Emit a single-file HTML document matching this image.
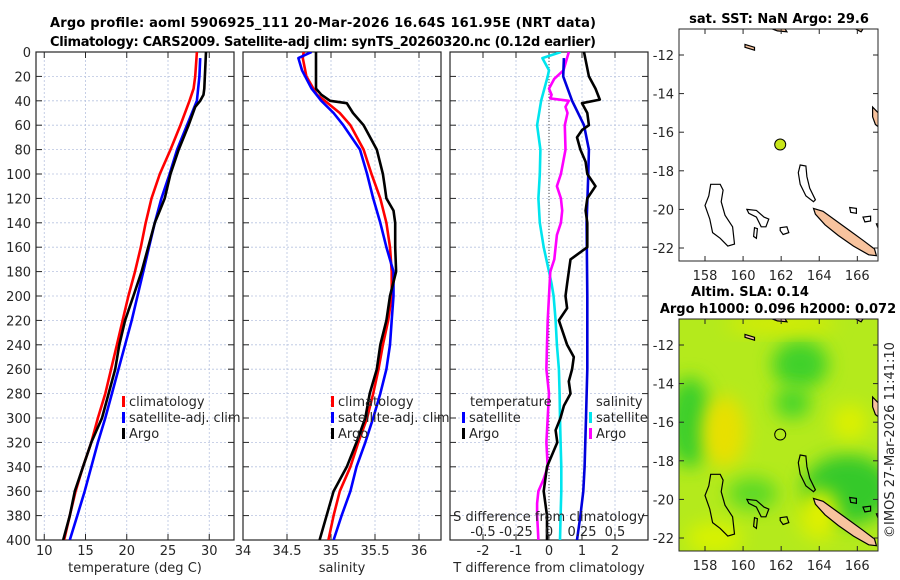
<!DOCTYPE html>
<html><head><meta charset="utf-8"><style>
html,body{margin:0;padding:0;background:#fff;}
svg{display:block;font-family:"DejaVu Sans","Liberation Sans",sans-serif;}
</style></head><body>
<svg id="fig" width="900" height="580" viewBox="0 0 900 580" xmlns="http://www.w3.org/2000/svg">
<defs>
<clipPath id="c1"><rect x="36" y="52" width="198" height="488"/></clipPath>
<clipPath id="c2"><rect x="243" y="52" width="198" height="488"/></clipPath>
<clipPath id="c3"><rect x="450" y="52" width="198" height="488"/></clipPath>
<clipPath id="m1"><rect x="679" y="29" width="199" height="232"/></clipPath>
<clipPath id="m2"><rect x="679" y="319" width="199" height="232"/></clipPath>
<filter id="bl" x="-50%" y="-50%" width="200%" height="200%"><feGaussianBlur stdDeviation="9"/></filter>
</defs>
<g id="layer"></g>
</svg>
<script>
// ---- data ----
const tClimDepth=[0,20,30,40,60,80,100,120,140,160,180,200,220,240,260,280,300,320,340,360,380,400];
const tClimVal=[28.5,28.3,28.1,27.6,26.5,25.3,24.0,23.0,22.3,21.7,21.0,20.2,19.5,18.8,18.1,17.4,16.5,15.7,14.7,13.8,13.1,12.4];
const tSatDepth=[5,20,40,60,80,100,120,140,160,180,200,220,240,260,280,300,320,340,360,380,400];
const tSatVal=[28.9,28.8,28.5,27.3,26.1,25.2,24.2,23.4,22.7,22.0,21.3,20.6,19.8,19.0,18.2,17.4,16.5,15.7,14.9,14.0,13.1];
const tArgoDepth=[0,30,35,40,45,60,80,100,120,130,140,160,180,200,220,240,260,280,300,320,340,360,380,400];
const tArgoVal=[29.6,29.4,29.3,28.9,28.3,27.5,26.3,25.3,24.6,24.0,23.4,22.6,21.8,20.8,19.8,19.1,18.6,17.8,17.0,15.7,14.7,13.7,13.1,12.3];
const sClimDepth=[0,5,20,35,40,50,60,80,100,120,140,160,180,200,220,240,260,280,300,320,340,360,380,400];
const sClimVal=[34.69,34.68,34.72,34.84,34.93,35.10,35.22,35.37,35.46,35.56,35.63,35.67,35.69,35.69,35.65,35.59,35.54,35.48,35.41,35.31,35.22,35.10,35.03,34.97];
const sSatDepth=[0,5,15,30,40,50,60,80,100,120,140,160,180,200,220,240,260,280,300,320,340,360,380,400];
const sSatVal=[34.78,34.63,34.67,34.78,34.89,35.03,35.14,35.33,35.41,35.48,35.56,35.63,35.71,35.71,35.69,35.67,35.63,35.56,35.48,35.39,35.29,35.22,35.12,35.03];
const sArgoDepth=[0,30,35,40,42,50,60,80,100,110,120,130,140,160,180,200,220,240,260,280,300,320,340,360,380,400];
const sArgoVal=[34.83,34.83,34.89,34.99,35.18,35.25,35.37,35.52,35.59,35.61,35.63,35.71,35.73,35.73,35.74,35.67,35.63,35.56,35.52,35.44,35.39,35.29,35.18,35.03,34.95,34.87];
const dTSatDepth=[5,20,40,60,80,100,140,200,260,300,340,360,380,400];
const dTSatVal=[0.45,0.43,0.70,1.06,1.21,1.19,1.14,1.16,1.16,1.12,1.08,1.04,0.95,0.85];
const dTArgoDepth=[0,20,30,39,42,50,60,64,70,80,90,100,110,120,130,140,160,170,180,190,200,210,220,240,250,260,270,280,290,300,310,320,340,360,380,400];
const dTArgoVal=[1.06,1.21,1.41,1.54,1.0,1.16,1.21,1.0,0.85,0.95,1.11,1.16,1.41,1.16,1.11,1.16,1.16,0.65,0.6,0.55,0.5,0.55,0.3,0.55,0.75,0.7,0.6,0.65,0.45,0.35,0.2,0.25,-0.06,-0.16,-0.06,-0.06];
const dSSatDepth=[0,5,15,20,40,60,80,100,120,140,160,180,190,200,220,240,260,280,300,320,340,360,380,400];
const dSSatVal=[0.09,-0.05,0,-0.01,-0.06,-0.09,-0.065,-0.07,-0.08,-0.07,-0.04,0,0.02,0.035,0.05,0.06,0.075,0.08,0.083,0.088,0.093,0.093,0.088,0.083];
const dSArgoDepth=[0,15,22,30,35,38,40,45,50,60,80,100,110,120,130,140,150,160,170,180,200,220,240,260,280,300,320,340,350,360,370,380,390,400];
const dSArgoVal=[0.15,0.11,0.04,0,0.02,0.01,0.15,0.125,0.14,0.12,0.125,0.09,0.06,0.09,0.10,0.09,0.06,0.05,0.04,0.01,0,-0.01,-0.015,-0.02,0,-0.01,-0.02,-0.01,-0.04,-0.08,-0.09,-0.09,-0.085,-0.08];
const depthTicks=[0,20,40,60,80,100,120,140,160,180,200,220,240,260,280,300,320,340,360,380,400];
const tTicks=[10,15,20,25,30];
const sTicks=[34,34.5,35,35.5,36];
const dTTicks=[-2,-1,0,1,2];
const dSTicks=[-0.5,-0.25,0,0.25,0.5];
const dSTickLabels=["-0.5","-0.25","0","0.25","0.5"];
const lonTicks=[158,160,162,164,166];
const latTicks=[-12,-14,-16,-18,-20,-22];

const NS="http://www.w3.org/2000/svg";
const L=document.getElementById('layer');
function mk(tag,attrs,parent,name,inter){const e=document.createElementNS(NS,tag);for(const k in attrs)e.setAttribute(k,attrs[k]);(parent||L).appendChild(e);


return e;}
function txt(x,y,s,attrs,name){const e=mk('text',Object.assign({x:x,y:y,'font-size':13,fill:'#262626'},attrs||{}),L,name);e.textContent=s;return e;}

const Y0=52,Y1=540;
const yD=d=>Y0+(d/400)*(Y1-Y0);
function panel(x0,lo,hi,clip,ticks,labels,title,name,leftLabels){
  const w=198,xs=v=>x0+(v-lo)/(hi-lo)*w;
  const g=mk('g',{},L,name+'-axes');
  depthTicks.forEach(d=>{mk('line',{x1:x0,x2:x0+w,y1:yD(d),y2:yD(d),stroke:'#b8c4e0','stroke-width':0.8,'stroke-dasharray':'2,2'},g,'grid-line');
    mk('line',{x1:x0,x2:x0+6,y1:yD(d),y2:yD(d),stroke:'#262626'},g,'tick');
    mk('line',{x1:x0+w-6,x2:x0+w,y1:yD(d),y2:yD(d),stroke:'#262626'},g,'tick');
    if(leftLabels) txt(x0-5,yD(d)+5,String(d),{'text-anchor':'end'},'depth-tick-label');});
  ticks.forEach((v,i)=>{const x=xs(v);mk('line',{x1:x,x2:x,y1:Y0,y2:Y1,stroke:'#b8c4e0','stroke-width':0.8,'stroke-dasharray':'2,2'},g,'grid-line');
    mk('line',{x1:x,x2:x,y1:Y1-6,y2:Y1,stroke:'#262626'},g,'tick');
    mk('line',{x1:x,x2:x,y1:Y0,y2:Y0+6,stroke:'#262626'},g,'tick');
    txt(x,555,labels[i],{'text-anchor':'middle'},'x-tick-label');});
  mk('rect',{x:x0,y:Y0,width:w,height:Y1-Y0,fill:'none',stroke:'#262626','stroke-width':1.2},g,name+'-frame');
  txt(x0+w/2,572,title,{'text-anchor':'middle'},'x-axis-title');
  return xs;
}
function line(xs,depths,vals,color,clip,name,w){
  const d=depths.map((dd,i)=>(i?'L':'M')+xs(vals[i]).toFixed(1)+','+yD(dd).toFixed(1)).join('');
  mk('path',{d:d,fill:'none',stroke:color,'stroke-width':w||2.6,'stroke-linejoin':'round','clip-path':'url(#'+clip+')'},L,name);
}
function legend(x,y,color,label){mk('rect',{x:x,y:y-10,width:3,height:11,fill:color},L,'legend-swatch');txt(x+7,y,label,{},'legend-entry');}

// titles
txt(50,27,'Argo profile: aoml 5906925_111 20-Mar-2026 16.64S 161.95E (NRT data)',{'font-weight':'bold',fill:'#000',textLength:546},'chart-title-line1');
txt(50,46,'Climatology: CARS2009. Satellite-adj clim: synTS_20260320.nc (0.12d earlier)',{'font-weight':'bold',fill:'#000',textLength:546},'chart-title-line2');

// panel 1 temperature
const xT=panel(36,9,33,'c1',tTicks,tTicks.map(String),'temperature (deg C)','temperature-panel',true);
line(xT,tClimDepth,tClimVal,'#ff0000','c1','temp-climatology-line');
line(xT,tSatDepth,tSatVal,'#0000ff','c1','temp-satellite-line');
line(xT,tArgoDepth,tArgoVal,'#000000','c1','temp-argo-line');
legend(122,406,'#ff0000','climatology');legend(122,422,'#0000ff','satellite-adj. clim');legend(122,438,'#000','Argo');

// panel 2 salinity
const xS=panel(243,34,36.25,'c2',sTicks,["34","34.5","35","35.5","36"],'salinity','salinity-panel',false);
line(xS,sClimDepth,sClimVal,'#ff0000','c2','sal-climatology-line');
line(xS,sSatDepth,sSatVal,'#0000ff','c2','sal-satellite-line');
line(xS,sArgoDepth,sArgoVal,'#000000','c2','sal-argo-line');
legend(331,406,'#ff0000','climatology');legend(331,422,'#0000ff','satellite-adj. clim');legend(331,438,'#000','Argo');

// panel 3 differences
const xdT=panel(450,-3,3,'c3',dTTicks,dTTicks.map(String),'T difference from climatology','difference-panel',false);
const xdS=v=>450+(v+0.75)/1.5*198;
mk('line',{x1:xdT(0),x2:xdT(0),y1:Y0,y2:Y1,stroke:'#444','stroke-width':1,'stroke-dasharray':'1,2'},L,'zero-line');
line(xdS,dSSatDepth,dSSatVal,'#00e5ee','c3','sal-diff-satellite-line');
line(xdS,dSArgoDepth,dSArgoVal,'#ff00ff','c3','sal-diff-argo-line');
line(xdT,dTSatDepth,dTSatVal,'#0000dd','c3','temp-diff-satellite-line');
line(xdT,dTArgoDepth,dTArgoVal,'#000','c3','temp-diff-argo-line');
txt(470,406,'temperature',{},'legend-header-temperature');
legend(462,422,'#0000ff','satellite');legend(462,438,'#000','Argo');
txt(596,406,'salinity',{},'legend-header-salinity');
legend(589,422,'#00e5ee','satellite');legend(589,438,'#ff00ff','Argo');
txt(549,521,'S difference from climatology',{'text-anchor':'middle'},'s-axis-title');
dSTicks.forEach((v,i)=>txt(xdS(v),536,dSTickLabels[i],{'text-anchor':'middle'},'s-tick-label'));

// maps
const lonX=lon=>705+(lon-158)*19.04;
const shapes={
 chesterfield:{fill:'none',pts:[[158.3,-18.7],[158.8,-18.7],[158.95,-19.0],[158.85,-19.6],[159.05,-20.3],[159.45,-20.9],[159.55,-21.8],[159.2,-21.9],[158.8,-21.5],[158.4,-21.2],[158.25,-20.5],[158.0,-19.8],[158.2,-19.3]]},
 bellona:{fill:'none',pts:[[160.2,-20.0],[160.7,-20.05],[161.1,-20.4],[161.35,-20.5],[161.2,-20.9],[160.95,-20.9],[160.7,-20.4],[160.3,-20.2]]},
 bellona2:{fill:'none',pts:[[160.6,-20.95],[160.75,-21.0],[160.7,-21.5],[160.55,-21.4]]},
 reefsmall:{fill:'none',pts:[[161.95,-20.95],[162.3,-20.9],[162.4,-21.2],[162.1,-21.3],[161.95,-21.1]]},
 ncreef:{fill:'none',pts:[[163.0,-17.7],[163.3,-17.75],[163.35,-18.3],[163.5,-18.9],[163.8,-19.5],[163.7,-19.6],[163.3,-19.3],[163.0,-18.7],[162.9,-18.1]]},
 newcaledonia:{fill:'#f7c39e',pts:[[163.7,-19.95],[164.2,-20.1],[164.9,-20.6],[165.6,-21.1],[166.3,-21.6],[166.9,-22.05],[167.0,-22.4],[166.6,-22.35],[165.8,-21.9],[165.0,-21.35],[164.3,-20.8],[163.8,-20.25]]},
 loyalty1:{fill:'none',pts:[[165.6,-19.9],[165.95,-19.95],[165.95,-20.2],[165.65,-20.15]]},
 loyalty2:{fill:'none',pts:[[166.3,-20.4],[166.7,-20.35],[166.7,-20.6],[166.4,-20.65]]},
 vanuatu:{fill:'#f7c39e',pts:[[166.8,-14.7],[167.1,-15.0],[167.3,-15.4],[167.2,-15.8],[166.95,-15.6],[166.8,-15.2]]},
 vanuatu2:{fill:'#f7c39e',pts:[[167.1,-16.0],[167.5,-16.1],[167.5,-16.5],[167.2,-16.3]]},
 vanuatu3:{fill:'#f7c39e',pts:[[167.0,-20.75],[167.5,-20.7],[167.5,-21.0],[167.1,-21.0]]},
 santacruz:{fill:'#f7c39e',pts:[[161.4,-10.6],[162.2,-10.65],[162.3,-10.8],[161.8,-10.75]]},
 rennell:{fill:'#f7c39e',pts:[[160.1,-11.45],[160.6,-11.6],[160.6,-11.75],[160.1,-11.6]]},
 topright:{fill:'#f7c39e',pts:[[165.9,-10.65],[166.3,-10.65],[166.2,-10.8]]}
};
function drawMap(yTop,yM12,clip,name){
  const latY=lat=>yM12+(-12-lat)*19.3;
  const H=232;
  const g=mk('g',{'clip-path':'url(#'+clip+')'},L,name+'-layer');
  if(name==='sla-map'){
    mk('rect',{x:679,y:yTop,width:199,height:H,fill:'#b4ea1c'},g,'sla-background');
    const blobs=[[157.2,-16,22,45,'#3bcf2a'],[163,-13,28,24,'#40d12b'],[165.5,-19.5,45,35,'#35c92c'],[162.6,-15,18,16,'#48d52a'],[159,-16.5,22,36,'#e8e000'],[165.6,-16,18,18,'#dcf000'],[162,-10.9,55,9,'#d8ec00'],[158.5,-22,28,16,'#d8f200'],[160.5,-19.7,25,16,'#5cd928'],[164,-20.8,20,25,'#e0f000']];
    blobs.forEach(b=>mk('ellipse',{cx:lonX(b[0]),cy:latY(b[1]),rx:b[2],ry:b[3],fill:b[4],filter:'url(#bl)'},g,'sla-anomaly-region'));
  }
  for(const k in shapes){const s=shapes[k];
    mk('path',{d:s.pts.map((p,i)=>(i?'L':'M')+lonX(p[0]).toFixed(1)+','+latY(p[1]).toFixed(1)).join('')+'Z',fill:s.fill,stroke:'#000','stroke-width':1.2},g,'coastline-'+k);}
  mk('circle',{cx:lonX(161.95),cy:latY(-16.64),r:5.5,fill:name==='sst-map'?'#c8e61a':'none',stroke:'#000','stroke-width':1},L,'argo-float-marker');
  mk('rect',{x:679,y:yTop,width:199,height:H,fill:'none',stroke:'#262626','stroke-width':1},L,name+'-frame');
  lonTicks.forEach(v=>{const x=lonX(v);mk('line',{x1:x,x2:x,y1:yTop+H-5,y2:yTop+H,stroke:'#262626'},L,'tick');mk('line',{x1:x,x2:x,y1:yTop,y2:yTop+5,stroke:'#262626'},L,'tick');
    txt(x,yTop+H+19,String(v),{'text-anchor':'middle'},'lon-tick-label');});
  latTicks.forEach(v=>{const y=latY(v);mk('line',{x1:878,x2:873,y1:y,y2:y,stroke:'#262626'},L,'tick');mk('line',{x1:679,x2:684,y1:y,y2:y,stroke:'#262626'},L,'tick');
    txt(674,y+5,String(v),{'text-anchor':'end'},'lat-tick-label');});
}
drawMap(29,55,'m1','sst-map');
drawMap(319,345,'m2','sla-map');
txt(779,23,'sat. SST: NaN Argo: 29.6',{'font-weight':'bold',fill:'#000','text-anchor':'middle'},'sst-map-title');
txt(750,296,'Altim. SLA: 0.14',{'font-weight':'bold',fill:'#000','text-anchor':'middle'},'sla-map-title-line1');
txt(778,313,'Argo h1000: 0.096 h2000: 0.072',{'font-weight':'bold',fill:'#000','text-anchor':'middle'},'sla-map-title-line2');
txt(0,0,'©IMOS 27-Mar-2026 11:41:10',{'text-anchor':'middle',transform:'translate(894,440) rotate(-90)'},'copyright-timestamp');
</script>
</body></html>
